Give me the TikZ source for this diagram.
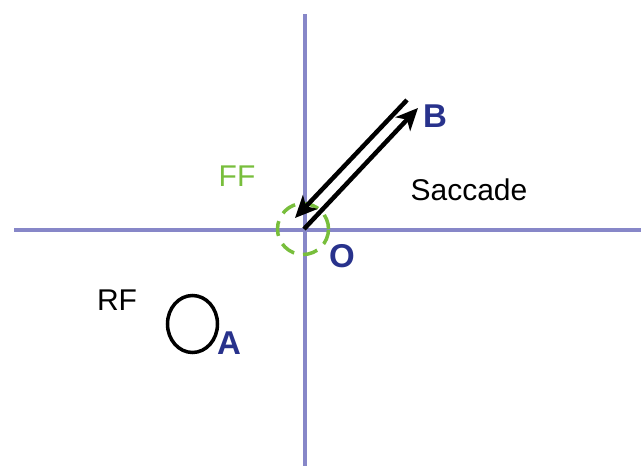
\documentclass[tikz,border=0pt]{standalone}
\usepackage{fontspec}
\setmainfont{Liberation Sans}
\usetikzlibrary{arrows.meta,shapes.geometric}
\definecolor{axiscol}{RGB}{135,135,200}
\definecolor{lblblue}{RGB}{40,50,140}
\definecolor{ffgreen}{RGB}{120,190,60}
\begin{document}
\begin{tikzpicture}[x=1pt,y=-1pt,
  axis/.style={draw=axiscol,line width=3.5pt},
  sacc/.style={draw=black,line width=4.5pt,-{Stealth[length=22pt,width=20pt,inset=6pt]}},
  ptlabel/.style={text=lblblue,font=\fontsize{33}{36}\selectfont\bfseries,inner sep=0pt},
  txtlabel/.style={font=\fontsize{30}{36}\selectfont,inner sep=0pt}]
\useasboundingbox (0,0) rectangle (641,466);
\coordinate (top) at (305,14);
\coordinate (bot) at (305,466);
\coordinate (left) at (14,230);
\coordinate (right) at (641,230);
\draw[axis] (top) -- (bot);
\draw[axis] (left) -- (right);
\node[draw=ffgreen,line width=3.5pt,dash pattern=on 15pt off 9pt,circle,minimum size=51pt,inner sep=0pt] (ff) at (303,229) {};
\coordinate (s1) at (407,100);
\coordinate (e1) at (295,218);
\coordinate (s2) at (304,229);
\coordinate (e2) at (418,108);
\draw[sacc] (s1) -- (e1);
\draw[sacc] (s2) -- (e2);
\node[draw=black,line width=3.5pt,ellipse,minimum width=50pt,minimum height=57pt,inner sep=0pt] (rf) at (192.5,324) {};
\node[ptlabel] (B) at (435,116) {B};
\node[ptlabel] (O) at (342,256) {O};
\node[ptlabel] (A) at (229,343) {A};
\node[txtlabel,text=ffgreen] (FF) at (237,176) {FF};
\node[txtlabel] (S) at (469,190) {Saccade};
\node[txtlabel] (RF) at (117,300) {RF};
\end{tikzpicture}
\end{document}
